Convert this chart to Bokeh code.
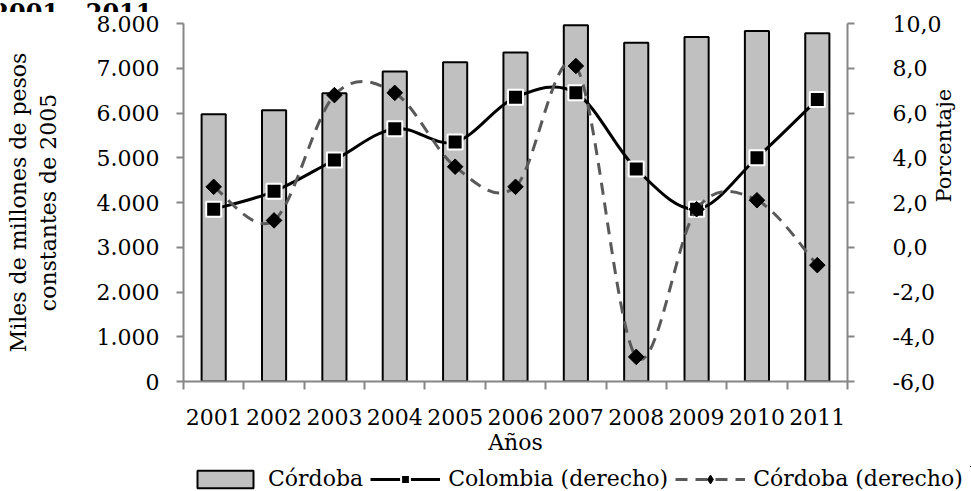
import math
from bokeh.plotting import figure
from bokeh.layouts import column
from bokeh.models import (Range1d, LinearAxis, FixedTicker, Legend, LegendItem,
                          Label, ColumnDataSource)
from bokeh.embed import file_html
from bokeh.resources import INLINE

# ---------------- data ----------------
years = ["2001", "2002", "2003", "2004", "2005", "2006", "2007", "2008", "2009", "2010", "2011"]
cordoba_pib = [5970, 6060, 6440, 6930, 7135, 7350, 7960, 7570, 7700, 7830, 7780]
colombia_crec = [1.7, 2.5, 3.9, 5.3, 4.7, 6.7, 6.9, 3.5, 1.7, 4.0, 6.6]
cordoba_crec = [2.7, 1.2, 6.8, 6.9, 3.6, 2.7, 8.1, -4.9, 1.7, 2.1, -0.8]

left_ticks = [0, 1000, 2000, 3000, 4000, 5000, 6000, 7000, 8000]
left_tick_labels = ["0", "1.000", "2.000", "3.000", "4.000", "5.000", "6.000", "7.000", "8.000"]
right_ticks = [-6, -4, -2, 0, 2, 4, 6, 8, 10]
right_tick_labels = ["-6,0", "-4,0", "-2,0", "0,0", "2,0", "4,0", "6,0", "8,0", "10,0"]
title_text = "2001 - 2011"

FONT = "DejaVu Serif"
FS_TICK = "22px"
FS_TITLE = "22px"
AXIS_GRAY = "#868686"
BAR_STYLE = dict(fill_color="#C0C0C0", line_color="black", line_width=2)
COL_LINE = dict(line_color="black", line_width=3)
COL_PTS = dict(marker="square", size=15, fill_color="black", line_color="white", line_width=2)
COR_LINE = dict(line_color="#595959", line_width=3, line_dash="12 8")
COR_PTS = dict(marker="square", angle=math.pi / 4, size=11, fill_color="black",
               line_color="black", line_width=1)
COR_PTS_LEGEND = dict(marker="diamond", size=11, fill_color="black", line_color="black", line_width=1)

n = len(years)
centers = [i + 0.5 for i in range(n)]


def smooth_segments(xs, ys):
    """Bezier control points (Excel-style smoothed line) through the data points."""
    d = dict(x0=[], y0=[], x1=[], y1=[], cx0=[], cy0=[], cx1=[], cy1=[])
    m = len(xs)
    for i in range(m - 1):
        a = i - 1 if i > 0 else i
        b = i + 2 if i + 2 < m else i + 1
        d["x0"].append(xs[i]); d["y0"].append(ys[i])
        d["x1"].append(xs[i + 1]); d["y1"].append(ys[i + 1])
        d["cx0"].append(xs[i] + (xs[i + 1] - xs[a]) / 6.0)
        d["cy0"].append(ys[i] + (ys[i + 1] - ys[a]) / 6.0)
        d["cx1"].append(xs[i + 1] - (xs[b] - xs[i]) / 6.0)
        d["cy1"].append(ys[i + 1] - (ys[b] - ys[i]) / 6.0)
    return d


BEZ = dict(x0="x0", y0="y0", x1="x1", y1="y1", cx0="cx0", cy0="cy0", cx1="cx1", cy1="cy1")


def bare_figure(h):
    f = figure(width=971, height=h, x_range=Range1d(0, 971), y_range=Range1d(0, 1),
               output_backend="svg", toolbar_location=None, min_border=0,
               min_border_left=0, min_border_right=0, min_border_top=0, min_border_bottom=0)
    f.axis.visible = False
    f.grid.grid_line_color = None
    f.outline_line_color = None
    if "frame_align" in f.properties():
        f.frame_align = False
    return f


# ---------------- top strip: partially visible title ----------------
tf = bare_figure(12)
tf.add_layout(Label(x=152, y=0, text=title_text, text_font=FONT, text_font_size="24px",
                    text_font_style="bold", text_align="right", text_baseline="alphabetic",
                    text_color="black"))

# ---------------- main chart ----------------
p = figure(width=971, height=454, x_range=Range1d(0, n), y_range=Range1d(0, 8000),
           output_backend="svg", toolbar_location=None,
           min_border_left=183, min_border_right=116, min_border_top=11, min_border_bottom=85)
if "frame_align" in p.properties():
    p.frame_align = False
p.extra_y_ranges = {"right": Range1d(-6, 10)}
p.grid.grid_line_color = None
p.outline_line_color = None

p.vbar(x=centers, top=cordoba_pib, width=0.4, **BAR_STYLE)
p.bezier(source=ColumnDataSource(smooth_segments(centers, colombia_crec)), y_range_name="right",
         **BEZ, **COL_LINE)
p.scatter(centers, colombia_crec, y_range_name="right", **COL_PTS)
p.bezier(source=ColumnDataSource(smooth_segments(centers, cordoba_crec)), y_range_name="right",
         **BEZ, **COR_LINE)
p.scatter(centers, cordoba_crec, y_range_name="right", **COR_PTS)


def style_axis(ax):
    ax.axis_line_color = AXIS_GRAY
    ax.axis_line_width = 2
    ax.major_tick_line_color = AXIS_GRAY
    ax.major_tick_line_width = 2
    ax.minor_tick_line_color = None
    ax.major_tick_in = 0
    ax.major_tick_out = 7
    ax.major_label_text_font = FONT
    ax.major_label_text_font_size = FS_TICK
    ax.major_label_text_color = "black"
    ax.axis_label_text_font = FONT
    ax.axis_label_text_font_size = FS_TITLE
    ax.axis_label_text_font_style = "normal"
    ax.axis_label_text_color = "black"


# x axis: boundary ticks
xa = p.xaxis[0]
style_axis(xa)
xa.ticker = FixedTicker(ticks=list(range(n + 1)))
xa.major_label_text_font_size = "0px"
xa.major_label_standoff = 0
xa.major_tick_out = 8

# x axis: year labels at category centres
xl = LinearAxis(ticker=FixedTicker(ticks=centers),
                major_label_overrides={c: y for c, y in zip(centers, years)},
                axis_label="Años")
style_axis(xl)
xl.axis_line_color = None
xl.major_tick_line_color = None
xl.major_tick_out = 0
xl.major_label_standoff = 19
xl.axis_label_standoff = 2
p.add_layout(xl, "below")

# left y axis
ya = p.yaxis[0]
style_axis(ya)
ya.ticker = FixedTicker(ticks=left_ticks)
ya.major_label_overrides = {t: s for t, s in zip(left_ticks, left_tick_labels)}
ya.major_label_standoff = 17
ya.axis_label = "Miles de millones de pesos\nconstantes de 2005"
ya.axis_label_standoff = 33

# right y axis
yr = LinearAxis(y_range_name="right", ticker=FixedTicker(ticks=right_ticks),
                major_label_overrides={t: s for t, s in zip(right_ticks, right_tick_labels)},
                axis_label="Porcentaje")
style_axis(yr)
yr.major_label_standoff = 38
yr.axis_label_standoff = 0
yr.axis_label_text_font_size = "21px"
yr.axis_label_orientation = math.pi / 2
p.add_layout(yr, "right")

# ---------------- legend strip (same series, out of view) ----------------
lf = bare_figure(25)
lf.x_range = Range1d(-100, -99)
lf.y_range = Range1d(-100, -99)
l_bars = lf.vbar(x=centers, top=cordoba_pib, width=0.4, **BAR_STYLE)
l_col_line = lf.bezier(source=ColumnDataSource(smooth_segments(centers, colombia_crec)), **BEZ, **COL_LINE)
l_col_pts = lf.scatter(centers, colombia_crec, **COL_PTS)
l_cor_line = lf.bezier(source=ColumnDataSource(smooth_segments(centers, cordoba_crec)), **BEZ, **COR_LINE)
l_cor_pts = lf.scatter(centers, cordoba_crec, **COR_PTS_LEGEND)

legend = Legend(items=[
    LegendItem(label="Córdoba", renderers=[l_bars]),
    LegendItem(label="Colombia (derecho)", renderers=[l_col_line, l_col_pts]),
    LegendItem(label="Córdoba (derecho)", renderers=[l_cor_line, l_cor_pts]),
], orientation="horizontal", location=(190, 0))
legend.label_text_font = FONT
legend.label_text_font_size = "22px"
legend.label_text_color = "black"
legend.label_height = 20
legend.glyph_width = 70
legend.glyph_height = 22
legend.label_standoff = 8
legend.spacing = 7
legend.padding = 0
legend.margin = 0
legend.border_line_color = None
legend.background_fill_alpha = 0
lf.add_layout(legend, "center")

layout = column(tf, p, lf, spacing=0)
open("out.html", "w").write(file_html(layout, INLINE))
